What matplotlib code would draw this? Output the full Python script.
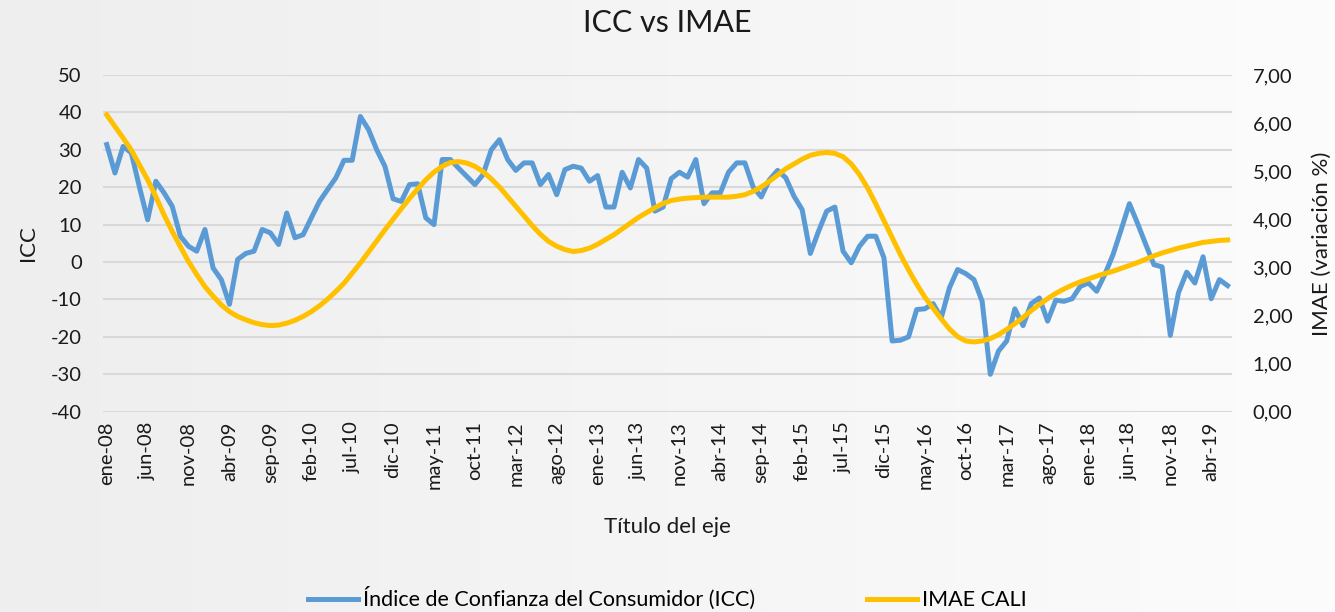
import numpy as np
import matplotlib
matplotlib.use("Agg")
from matplotlib import pyplot as plt

plt.rcParams['font.family'] = ['Lato', 'DejaVu Sans']
plt.rcParams['axes.unicode_minus'] = False

meses = ["ene", "feb", "mar", "abr", "may", "jun", "jul", "ago", "sep", "oct", "nov", "dic"]
fechas = [meses[m % 12] + "-" + str(8 + m // 12).zfill(2) for m in range(138)]

icc = [31.4, 23.8, 30.9, 29.2, 20.0, 11.3, 21.6, 18.5, 14.9, 6.9,
       4.2, 2.9, 8.7, -1.6, -4.7, -11.3, 0.7, 2.3, 2.9, 8.7,
       7.8, 4.7, 13.1, 6.5, 7.3, 11.8, 16.2, 19.4, 22.5, 27.2,
       27.2, 38.9, 35.4, 30.0, 25.6, 16.9, 16.2, 20.7, 20.9, 11.8,
       10.0, 27.4, 27.4, 25.1, 22.9, 20.7, 23.4, 30.0, 32.7, 27.4,
       24.5, 26.5, 26.5, 20.7, 23.4, 18.0, 24.7, 25.6, 25.1, 21.6,
       23.1, 14.7, 14.7, 24.0, 19.8, 27.4, 25.1, 13.6, 14.7, 22.3,
       24.0, 22.7, 27.4, 15.6, 18.5, 18.5, 24.0, 26.5, 26.5, 20.1,
       17.4, 22.0, 24.5, 22.5, 17.6, 14.0, 2.3, 8.2, 13.6, 14.7,
       2.9, -0.2, 4.2, 6.9, 6.9, 1.1, -21.1, -20.9, -20.0, -12.7,
       -12.5, -11.1, -14.9, -6.9, -2.0, -3.1, -4.7, -10.5, -30.0, -23.8,
       -21.1, -12.5, -17.0, -11.1, -9.6, -15.8, -10.2, -10.5, -9.8, -6.5,
       -5.6, -7.8, -3.3, 2.0, 8.7, 15.6, 10.3, 4.7, -0.7, -1.3,
       -19.6, -8.2, -2.7, -5.6, 1.4, -9.8, -4.7, -6.3]

imae = [6.17, 5.93, 5.69, 5.44, 5.13, 4.82, 4.47, 4.09, 3.75, 3.43,
        3.12, 2.85, 2.60, 2.40, 2.22, 2.08, 1.98, 1.91, 1.85, 1.81,
        1.79, 1.80, 1.84, 1.90, 1.98, 2.08, 2.20, 2.34, 2.50, 2.67,
        2.88, 3.09, 3.32, 3.55, 3.78, 4.00, 4.22, 4.43, 4.63, 4.82,
        4.98, 5.10, 5.18, 5.20, 5.17, 5.10, 4.99, 4.84, 4.67, 4.47,
        4.27, 4.07, 3.87, 3.69, 3.54, 3.44, 3.37, 3.33, 3.35, 3.40,
        3.48, 3.58, 3.68, 3.80, 3.92, 4.04, 4.14, 4.24, 4.33, 4.39,
        4.42, 4.44, 4.45, 4.46, 4.46, 4.46, 4.46, 4.48, 4.51, 4.58,
        4.67, 4.79, 4.92, 5.05, 5.15, 5.25, 5.33, 5.37, 5.39, 5.37,
        5.30, 5.15, 4.93, 4.65, 4.32, 3.97, 3.62, 3.27, 2.95, 2.65,
        2.38, 2.15, 1.93, 1.72, 1.56, 1.47, 1.45, 1.47, 1.52, 1.60,
        1.71, 1.83, 1.96, 2.10, 2.23, 2.35, 2.46, 2.55, 2.63, 2.70,
        2.76, 2.82, 2.87, 2.92, 2.98, 3.04, 3.10, 3.17, 3.24, 3.30,
        3.35, 3.40, 3.44, 3.48, 3.52, 3.54, 3.56, 3.57]

x = np.arange(len(icc))

fig = plt.figure(figsize=(13.35, 6.12), dpi=100)

# fondo con degradado suave
bg = fig.add_axes([0, 0, 1, 1], zorder=-10)
grad = np.linspace(0, 1, 256).reshape(1, -1)
bg.imshow(grad, aspect='auto', cmap=matplotlib.colors.LinearSegmentedColormap.from_list(
    "g", ["#eeeeee", "#fcfcfc"]), extent=[0, 1, 0, 1])
bg.axis('off')

ax = fig.add_axes([0.0769, 0.3273, 0.8457, 0.5502])
ax.set_facecolor('none')
ax.plot(x, icc, color="#5b9bd5", linewidth=3.6, solid_joinstyle='round',
        label="Índice de Confianza del Consumidor (ICC)")
ax.set_ylim(-40, 50)
ax.set_yticks(range(-40, 51, 10))
ax.set_xlim(-0.5, len(x) - 0.5)
ax.set_xticks(x[::5])
ax.set_xticklabels(fechas[::5], rotation=90)
ax.grid(axis='y', color="#d9d9d9", linewidth=1.5)
ax.set_axisbelow(True)
for s in ax.spines.values():
    s.set_visible(False)
ax.tick_params(length=0, labelsize=14.5, colors="#1a1a1a")
ax.tick_params(axis='y', pad=15)
ax.tick_params(axis='x', pad=7)
ax.set_ylabel("ICC", fontsize=16, color="#1a1a1a", labelpad=9)
ax.set_xlabel("Título del eje", fontsize=16, color="#1a1a1a", labelpad=20)

ax2 = ax.twinx()
ax2.plot(x, imae, color="#ffc000", linewidth=3.6, label="IMAE CALI")
ax2.set_ylim(0, 7)
ax2.set_yticks(range(0, 8))
ax2.set_yticklabels(["%d,00" % v for v in range(0, 8)])
for s in ax2.spines.values():
    s.set_visible(False)
ax2.tick_params(length=0, labelsize=14.5, colors="#1a1a1a", pad=15)
ax2.set_ylabel("IMAE (variación %)", fontsize=16, color="#1a1a1a", labelpad=14)

fig.suptitle("ICC vs IMAE", fontsize=22, y=0.985, color="#1a1a1a")

h1, l1 = ax.get_legend_handles_labels()
h2, l2 = ax2.get_legend_handles_labels()
fig.legend(h1 + h2, l1 + l2, loc='center', bbox_to_anchor=(0.5, 0.022), ncol=2,
           frameon=False, fontsize=15.5, handlelength=2.3, handletextpad=0.25,
           columnspacing=5.2)

fig.savefig("out.png", dpi=100)
